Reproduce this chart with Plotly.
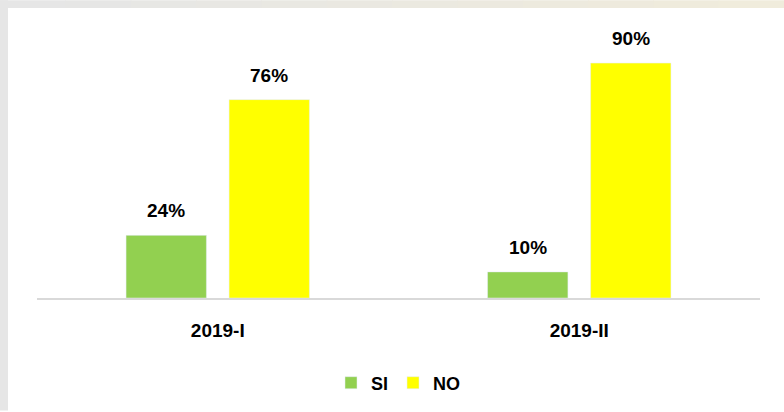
import plotly.graph_objects as go

# datos
periodos = ["2019-I", "2019-II"]
si_vals = [24, 10]
no_vals = [76, 90]

FONT = "Liberation Sans, Arial, sans-serif"

fig = go.Figure()
fig.add_trace(go.Bar(x=periodos, y=si_vals, name="<b>SI</b>", marker_color="#92d050"))
fig.add_trace(go.Bar(x=periodos, y=no_vals, name="<b>NO</b>", marker_color="#ffff00"))

# etiquetas sobre las barras
for i, p in enumerate(periodos):
    for off, vals in ((-0.5, si_vals), (0.5, no_vals)):
        fig.add_annotation(
            x=p, y=vals[i], text=f"<b>{vals[i]}%</b>", showarrow=False,
            xref="x", yref="y", xshift=off * 103, yshift=12, yanchor="bottom",
            font=dict(family=FONT, size=19, color="#000"),
        )

# marco gris/beige del fondo
L, T, W, H = 37, 37, 723, 262
def px(x):
    return (x - L) / W
def py(y):
    return (T + H - y) / H

fig.add_shape(type="rect", xref="paper", yref="paper", x0=px(0), x1=px(8), y0=py(412), y1=py(0),
              fillcolor="#e6e6e6", line_width=0, layer="below")
steps = 12
for k in range(steps):
    t = k / (steps - 1)
    r = int(0xe6 + (0xf0 - 0xe6) * t)
    g = int(0xe6 + (0xec - 0xe6) * t)
    b = int(0xe6 + (0xdc - 0xe6) * t)
    fig.add_shape(type="rect", xref="paper", yref="paper",
                  x0=px(784 * k / steps), x1=min(px(784 * (k + 1) / steps) + 0.001, px(784)),
                  y0=py(8), y1=py(0),
                  fillcolor=f"rgb({r},{g},{b})", line_width=0, layer="below")

fig.update_layout(
    width=784, height=412,
    margin=dict(l=L, r=784 - L - W, t=T, b=412 - T - H),
    paper_bgcolor="white", plot_bgcolor="white",
    barmode="group", bargap=0.43, bargroupgap=0.22,
    showlegend=True,
    legend=dict(orientation="h", x=0.5, xanchor="center", y=py(383), yanchor="middle",
                font=dict(family=FONT, size=18, color="#000"), itemwidth=30,
                traceorder="normal"),
    xaxis=dict(showline=True, linecolor="#d9d9d9", linewidth=2, ticks="",
               ticklabelstandoff=14,
               tickfont=dict(family=FONT, size=19, color="#000"),
               tickvals=periodos, ticktext=[f"<b>{p}</b>" for p in periodos]),
    yaxis=dict(range=[0, 100], visible=False, showgrid=False, zeroline=False),
)

fig.write_html(
    "out.html",
    config={"displayModeBar": False},
    post_script=(
        "document.body.style.margin='0';"
        "document.body.style.overflow='hidden';"
        "document.documentElement.style.overflow='hidden';"
    ),
)
